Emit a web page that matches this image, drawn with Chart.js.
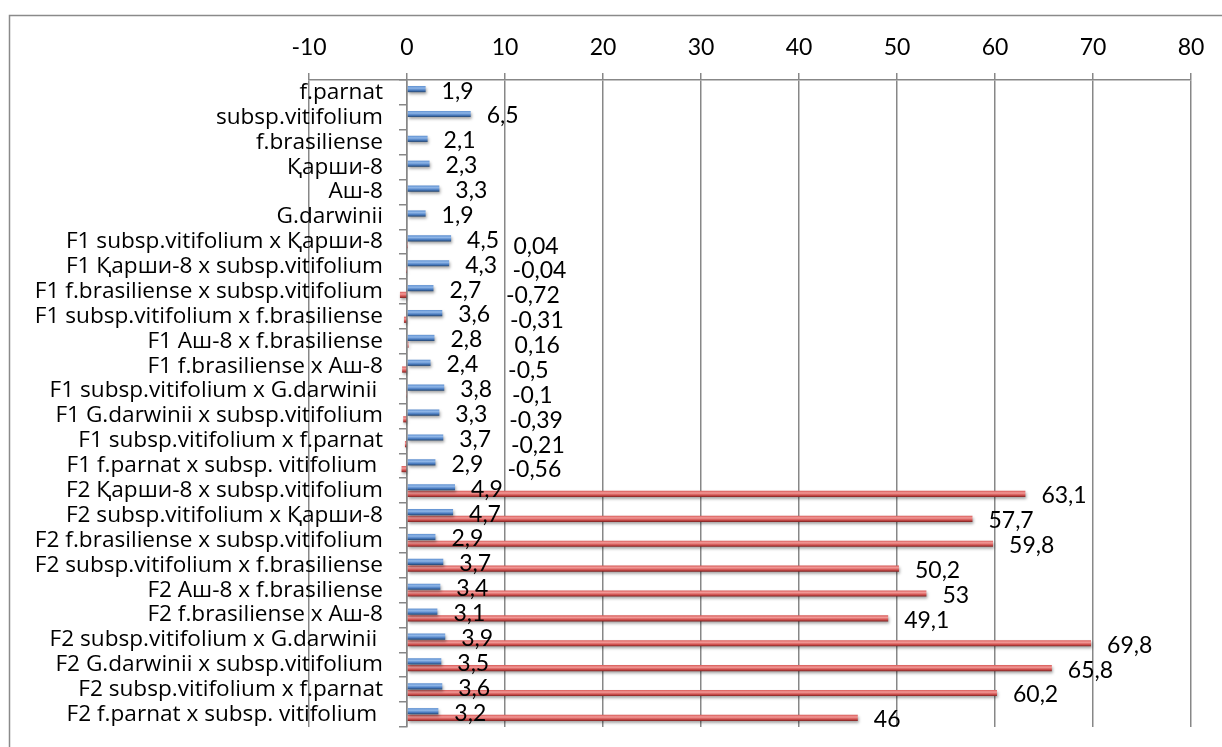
<!DOCTYPE html>
<html>
<head>
<meta charset="utf-8">
<script src="https://cdn.jsdelivr.net/npm/chart.js@4/dist/chart.umd.min.js"></script>
<style>
  html, body { margin: 0; padding: 0; background: #ffffff; }
  #wrap { width: 1222px; height: 747px; position: relative; }
</style>
</head>
<body>
<div id="wrap"><canvas id="c" width="1222" height="747"></canvas></div>
<script>
// Genotypes, top to bottom
const categories = [
  'f.parnat',
  'subsp.vitifolium',
  'f.brasiliense',
  'Қарши-8',
  'Аш-8',
  'G.darwinii',
  'F1 subsp.vitifolium x Қарши-8',
  'F1 Қарши-8 x subsp.vitifolium',
  'F1 f.brasiliense x subsp.vitifolium',
  'F1 subsp.vitifolium x f.brasiliense',
  'F1 Аш-8 x f.brasiliense',
  'F1 f.brasiliense x Аш-8',
  'F1 subsp.vitifolium x G.darwinii ',
  'F1 G.darwinii x subsp.vitifolium',
  'F1 subsp.vitifolium x f.parnat',
  'F1 f.parnat x subsp. vitifolium ',
  'F2 Қарши-8 x subsp.vitifolium',
  'F2 subsp.vitifolium x Қарши-8',
  'F2 f.brasiliense x subsp.vitifolium',
  'F2 subsp.vitifolium x f.brasiliense',
  'F2 Аш-8 x f.brasiliense',
  'F2 f.brasiliense x Аш-8',
  'F2 subsp.vitifolium x G.darwinii ',
  'F2 G.darwinii x subsp.vitifolium',
  'F2 subsp.vitifolium x f.parnat',
  'F2 f.parnat x subsp. vitifolium '
];

// First series (blue bars)
const seriesBlue = [
  1.9, 6.5, 2.1, 2.3, 3.3, 1.9,
  4.5, 4.3, 2.7, 3.6, 2.8, 2.4, 3.8, 3.3, 3.7, 2.9,
  4.9, 4.7, 2.9, 3.7, 3.4, 3.1, 3.9, 3.5, 3.6, 3.2
];

// Second series (red bars); parents have no value
const seriesRed = [
  null, null, null, null, null, null,
  0.04, -0.04, -0.72, -0.31, 0.16, -0.5, -0.1, -0.39, -0.21, -0.56,
  63.1, 57.7, 59.8, 50.2, 53, 49.1, 69.8, 65.8, 60.2, 46
];

// Value axis ticks
const xTickMin = -10;
const xTickMax = 80;
const xTickStep = 10;

const NUM_FONT = 'Lato';
const NUM_SIZE = 23;
const CAT_FAMILY = "'Open Sans'";
const GRID = '#878787';
const CAT_PCT = 0.54;
const BAR_PCT = 0.92;

// category label layout: labels end 74px right of the plot's left edge
const LEFT_EDGE = 309;
const LABEL_RIGHT = 383;

const measurer = document.createElement('canvas').getContext('2d');
function textWidth(str, size) {
  measurer.font = size + 'px ' + CAT_FAMILY;
  return measurer.measureText(str).width;
}
const CAT_SIZE = Math.round(20 * 348 / textWidth('F1 f.brasiliense x subsp.vitifolium', 20) * 10) / 10;
const widestLabel = Math.max(...categories.map(l => textWidth(l, CAT_SIZE)));

function fmt(v) { return String(v).replace('.', ','); }

// cylinder-like shading for each bar
function barGradient(colors) {
  return function (ctx) {
    const chart = ctx.chart;
    const ys = chart.scales.y;
    if (!ys || !chart.chartArea || ctx.dataIndex === undefined) return colors[1];
    const slot = (ys.bottom - ys.top) / categories.length;
    const sub = slot * CAT_PCT / 2;
    const h = sub * BAR_PCT;
    const c = ys.getPixelForValue(ctx.dataIndex) + (ctx.datasetIndex === 0 ? -sub / 2 : sub / 2);
    const g = chart.ctx.createLinearGradient(0, c - h / 2, 0, c + h / 2);
    g.addColorStop(0, colors[0]);
    g.addColorStop(0.35, colors[1]);
    g.addColorStop(0.7, colors[2]);
    g.addColorStop(1, colors[3]);
    return g;
  };
}

const frame = {
  id: 'frame',
  beforeDraw(chart) {
    const ctx = chart.ctx;
    ctx.save();
    ctx.fillStyle = '#ffffff';
    ctx.fillRect(0, 0, chart.width, chart.height);
    ctx.strokeStyle = '#8a8a8a';
    ctx.lineWidth = 1.5;
    ctx.beginPath();
    ctx.moveTo(9.5, chart.height);
    ctx.lineTo(9.5, 15.5);
    ctx.lineTo(chart.width, 15.5);
    ctx.stroke();
    ctx.restore();
  }
};

const barShadow = {
  id: 'barShadow',
  beforeDatasetsDraw(chart) {
    const ctx = chart.ctx;
    ctx.save();
    ctx.shadowColor = 'rgba(0,0,0,0.35)';
    ctx.shadowBlur = 3;
    ctx.shadowOffsetX = 1;
    ctx.shadowOffsetY = 2;
  },
  afterDatasetsDraw(chart) {
    chart.ctx.restore();
  }
};

const valueLabels = {
  id: 'valueLabels',
  afterDatasetsDraw(chart) {
    const ctx = chart.ctx;
    ctx.save();
    ctx.font = NUM_SIZE + 'px ' + NUM_FONT;
    ctx.fillStyle = '#000000';
    ctx.textAlign = 'left';
    ctx.textBaseline = 'middle';
    chart.data.datasets.forEach((ds, di) => {
      const meta = chart.getDatasetMeta(di);
      meta.data.forEach((bar, i) => {
        const v = ds.data[i];
        if (v === null || v === undefined) return;
        let x = bar.x + 16;
        let y = bar.y + 2;
        if (di === 1 && Math.abs(v) < 1) {
          x = bar.x + 106;
          y = bar.y + 1;
        }
        ctx.fillText(fmt(v), x, y);
      });
    });
    ctx.restore();
  }
};

new Chart(document.getElementById('c'), {
  type: 'bar',
  data: {
    labels: categories,
    datasets: [
      {
        label: 'series1',
        data: seriesBlue,
        yAxisID: 'y',
        backgroundColor: barGradient(['#5d8fd0', '#8fb6e8', '#4a7cc0', '#23446e']),
        borderWidth: 0,
        categoryPercentage: CAT_PCT,
        barPercentage: BAR_PCT
      },
      {
        label: 'series2',
        data: seriesRed,
        yAxisID: 'y',
        backgroundColor: barGradient(['#d85a58', '#f29a98', '#d0504e', '#7c2120']),
        borderWidth: 0,
        categoryPercentage: CAT_PCT,
        barPercentage: BAR_PCT
      }
    ]
  },
  options: {
    indexAxis: 'y',
    responsive: false,
    animation: false,
    layout: { padding: { left: 0, right: 31, top: 20, bottom: 20 } },
    plugins: {
      legend: { display: false },
      tooltip: { enabled: false },
      title: { display: false }
    },
    scales: {
      x: {
        type: 'linear',
        position: 'top',
        min: xTickMin,
        max: xTickMax,
        ticks: {
          stepSize: xTickStep,
          padding: 12,
          color: '#000000',
          font: { family: NUM_FONT, size: NUM_SIZE }
        },
        grid: { color: GRID, lineWidth: 1.5, tickLength: 7, drawTicks: true },
        border: { display: true, color: GRID, width: 1.5 },
        afterFit(scale) { scale.height = 60; }
      },
      y: {
        type: 'category',
        position: 'left',
        offset: true,
        grid: { display: false, drawTicks: false },
        border: { display: false },
        ticks: {
          mirror: true,
          crossAlign: 'far',
          padding: (LABEL_RIGHT - LEFT_EDGE) - widestLabel,
          color: '#000000',
          autoSkip: false,
          font: { family: CAT_FAMILY, size: CAT_SIZE }
        },
        afterFit(scale) { scale.width = LEFT_EDGE; }
      },
      y2: {
        type: 'category',
        position: { x: 0 },
        offset: true,
        grid: { offset: true, drawOnChartArea: false, color: GRID, lineWidth: 1.5, tickLength: 7 },
        border: { display: true, color: GRID, width: 1.5 },
        ticks: { display: false, autoSkip: false }
      }
    }
  },
  plugins: [frame, barShadow, valueLabels]
});
</script>
</body>
</html>
